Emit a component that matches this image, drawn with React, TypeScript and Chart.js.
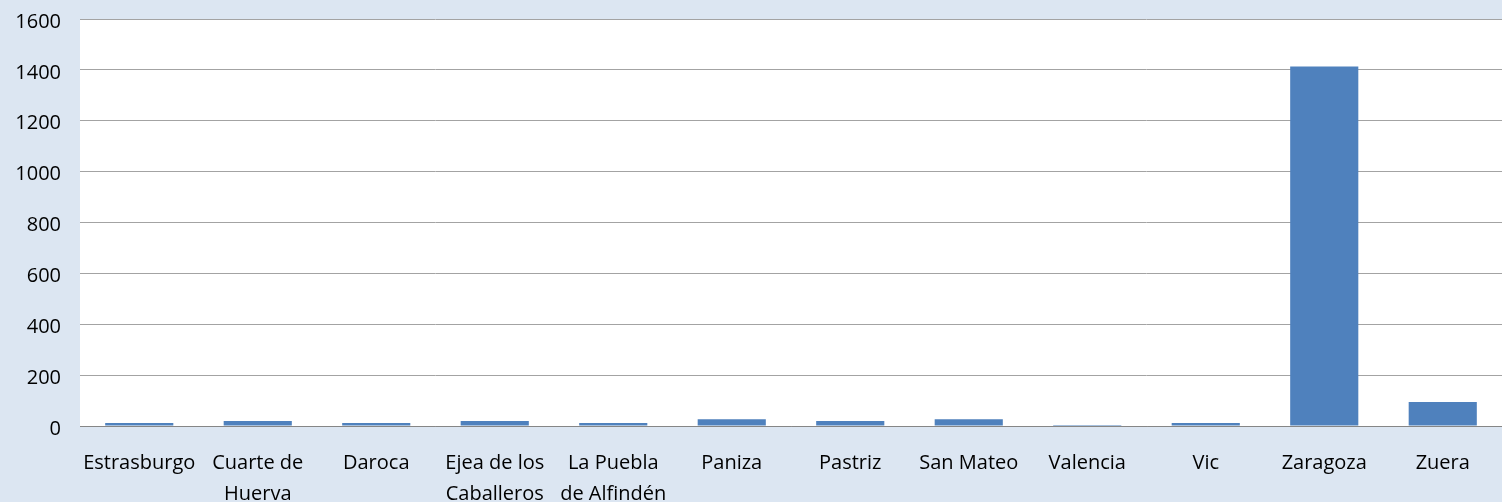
import React, { useEffect, useRef } from "react";
import { Chart, registerables } from "chart.js";

Chart.register(...registerables);

const categories: (string | string[])[] = [
  "Estrasburgo",
  ["Cuarte de", "Huerva"],
  "Daroca",
  ["Ejea de los", "Caballeros"],
  ["La Puebla", "de Alfindén"],
  "Paniza",
  "Pastriz",
  "San Mateo",
  "Valencia",
  "Vic",
  "Zaragoza",
  "Zuera",
];

const values: number[] = [12, 20, 12, 20, 12, 27, 20, 27, 4, 12, 1413, 94];

const yTicks: number[] = [0, 200, 400, 600, 800, 1000, 1200, 1400, 1600];

const bgPlugin = {
  id: "bgPlugin",
  beforeDraw(chart: any) {
    const { ctx, chartArea, width, height } = chart;
    ctx.save();
    ctx.fillStyle = "#dce6f2";
    ctx.fillRect(0, 0, width, height);
    ctx.fillStyle = "#ffffff";
    ctx.fillRect(chartArea.left, chartArea.top, chartArea.right - chartArea.left, chartArea.bottom - chartArea.top);
    ctx.restore();
  },
};

export default function App() {
  const ref = useRef<HTMLCanvasElement>(null);
  useEffect(() => {
    document.body.style.margin = "0";
    const canvas = ref.current!;
    const ctx2 = canvas.getContext("2d") as any;
    if (ctx2) ctx2.letterSpacing = "1.2px";
    const chart = new Chart(canvas, {
      type: "bar",
      data: {
        labels: categories,
        datasets: [
          {
            data: values,
            backgroundColor: "#4f81bd",
            barPercentage: 0.575,
            categoryPercentage: 1,
          },
        ],
      },
      options: {
        animation: false,
        responsive: false,
        devicePixelRatio: 1,
        layout: { padding: { top: 19, right: 0, left: 0, bottom: 0 } },
        plugins: { legend: { display: false }, tooltip: { enabled: false } },
        scales: {
          x: {
            grid: { display: false, drawTicks: false },
            border: { display: true, color: "#868686", width: 1 },
            ticks: {
              color: "#000000",
              font: { family: "Open Sans", size: 20, lineHeight: 1.55 },
              padding: 22,
              maxRotation: 0,
              autoSkip: false,
            },
            afterFit(scale: any) {
              scale.height = 76;
              scale.paddingLeft = 0;
              scale.paddingRight = 0;
            },
          },
          y: {
            min: 0,
            max: 1600,
            afterBuildTicks(scale: any) {
              scale.ticks = yTicks.map((v) => ({ value: v }));
            },
            grid: { color: "#a3a3a3", drawTicks: false },
            border: { display: false },
            ticks: {
              color: "#000000",
              font: { family: "Open Sans", size: 20 },
              padding: 19,
              labelOffset: 3,
              callback: (v: any) => String(v),
            },
            afterFit(scale: any) {
              scale.width = 80;
              scale.paddingTop = 0;
              scale.paddingBottom = 0;
            },
          },
        },
      },
      plugins: [bgPlugin],
    });
    return () => chart.destroy();
  }, []);
  return (
    <div style={{ position: "absolute", left: 0, top: 0, width: 1502, height: 502 }}>
      <canvas ref={ref} width={1502} height={502} />
    </div>
  );
}
